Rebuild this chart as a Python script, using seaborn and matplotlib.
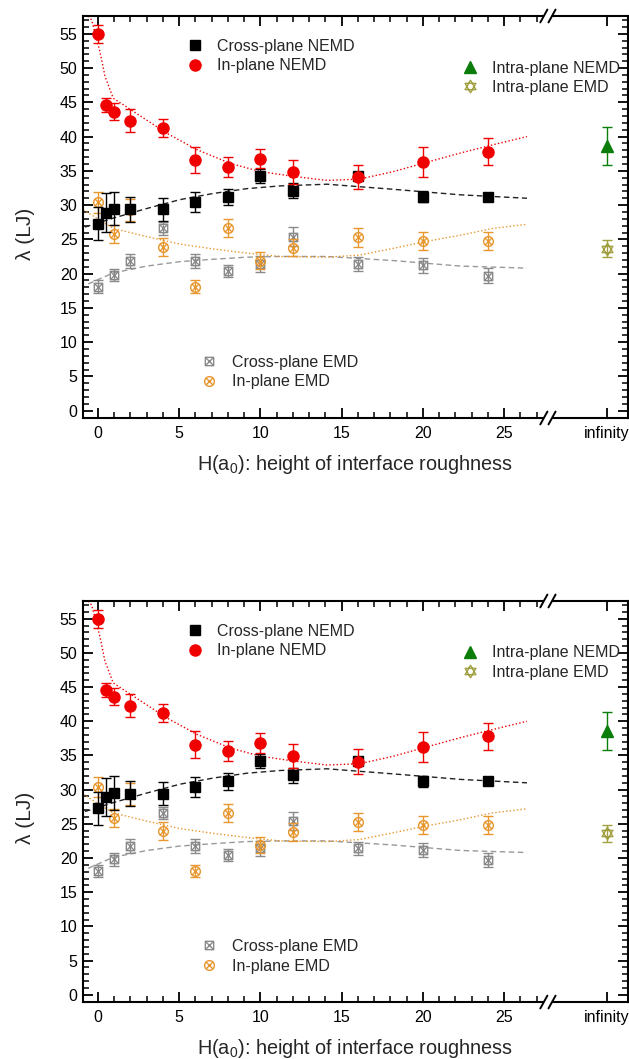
import numpy as np
import pandas as pd
import matplotlib
matplotlib.use("Agg")
import matplotlib.pyplot as plt
from matplotlib.path import Path
from matplotlib.lines import Line2D
import matplotlib.ticker as mticker
import seaborn as sns

# ---------------- data ----------------
H_nemd = [0, 0.5, 1, 2, 4, 6, 8, 10, 12, 16, 20, 24]
cross_nemd = [27.3, 28.9, 29.5, 29.4, 29.4, 30.4, 31.2, 34.2, 32.1, 34.2, 31.2, 31.2]
cross_nemd_err = [2.4, 2.8, 2.45, 1.8, 1.7, 1.45, 1.2, 1.0, 1.1, 0.5, 0.8, 0.4]
in_nemd = [55.0, 44.6, 43.6, 42.3, 41.2, 36.6, 35.6, 36.8, 34.9, 34.1, 36.3, 37.8]
in_nemd_err = [1.3, 1.0, 1.25, 1.7, 1.3, 1.95, 1.45, 1.45, 1.75, 1.8, 2.2, 2.0]

H_emd = [0, 1, 2, 4, 6, 8, 10, 12, 16, 20, 24]
cross_emd = [18.1, 19.8, 21.8, 26.6, 21.8, 20.4, 21.4, 25.4, 21.4, 21.2, 19.7]
cross_emd_err = [0.9, 0.9, 1.0, 0.9, 1.0, 0.9, 1.1, 1.35, 1.0, 1.05, 1.05]
in_emd = [30.4, 25.8, 29.3, 23.9, 18.1, 26.6, 21.9, 23.8, 25.3, 24.8, 24.8]
in_emd_err = [1.5, 1.3, 1.6, 1.3, 0.9, 1.3, 1.2, 1.3, 1.35, 1.3, 1.3]

H_inf = [31.3]
intra_nemd = [38.6]
intra_nemd_err = [2.8]
intra_emd = [23.65]
intra_emd_err = [1.25]

# trend curves
fit_red_x = [-0.6, -0.39, 0.12, 0.43, 0.94, 3.0, 4.23, 6.08, 8.13, 9.98, 12.0, 14.1, 16.1, 18.2, 20.0, 22.3, 24.3, 26.4]
fit_red_y = [57.6, 57.0, 52.4, 48.8, 45.6, 42.4, 40.5, 38.1, 36.1, 34.9, 34.2, 33.6, 33.8, 34.9, 36.1, 37.6, 38.8, 40.0]
fit_blk_x = [-0.8, 0.94, 3.0, 5.05, 7.1, 9.15, 11.2, 14.1, 18.2, 22.3, 26.4]
fit_blk_y = [26.8, 28.1, 29.5, 30.8, 31.7, 32.4, 32.8, 33.05, 32.3, 31.5, 31.0]
fit_gry_x = [-0.6, 0.94, 3.0, 5.05, 7.1, 9.15, 11.2, 14.1, 18.2, 22.3, 26.4]
fit_gry_y = [18.5, 20.1, 21.1, 21.75, 22.1, 22.4, 22.5, 22.5, 21.9, 21.1, 20.8]
fit_org_x = [-0.9, 0.94, 3.0, 5.05, 7.1, 9.15, 11.2, 14.1, 16.1, 18.2, 20.2, 22.3, 24.3, 26.4]
fit_org_y = [29.3, 26.6, 25.4, 24.3, 23.6, 23.0, 22.5, 22.4, 22.7, 23.7, 24.7, 25.6, 26.6, 27.2]

x_major = [0, 5, 10, 15, 20, 25, 31.3]
x_major_labels = ["0", "5", "10", "15", "20", "25", "infinity"]
x_minor = [1, 2, 3, 4, 6, 7, 8, 9, 11, 12, 13, 14, 16, 17, 18, 19, 21, 22, 23, 24, 26, 27]

legend1 = ["Cross-plane NEMD", "In-plane NEMD"]
legend2 = ["Intra-plane NEMD", "Intra-plane EMD"]
legend3 = ["Cross-plane EMD", "In-plane EMD"]

# ---------------- style ----------------
sns.set_theme(style="ticks")
plt.rcParams["font.family"] = ["Liberation Sans", "DejaVu Sans"]
plt.rcParams["mathtext.default"] = "regular"
plt.rcParams["axes.linewidth"] = 1.5

RED = "#f00000"
BLACK = "#000000"
GRAY = "#8a8a8a"
ORANGE = "#e8962e"
GREEN = "#0a7d0a"
OLIVE = "#a0a040"

# custom marker paths
def boxx_path():
    v = [(-1, -1), (1, -1), (1, 1), (-1, 1), (-1, -1),
         (-1, -1), (1, 1), (-1, 1), (1, -1)]
    c = [Path.MOVETO, Path.LINETO, Path.LINETO, Path.LINETO, Path.CLOSEPOLY,
         Path.MOVETO, Path.LINETO, Path.MOVETO, Path.LINETO]
    return Path(v, c)

def circx_path():
    circ = Path.unit_circle()
    d = 0.7071
    cross = Path([(-d, -d), (d, d), (-d, d), (d, -d)],
                 [Path.MOVETO, Path.LINETO, Path.MOVETO, Path.LINETO])
    return Path.make_compound_path(circ, cross)

def hexa_path():
    up = Path([(0, 1), (-0.866, -0.5), (0.866, -0.5), (0, 1)],
              [Path.MOVETO, Path.LINETO, Path.LINETO, Path.CLOSEPOLY])
    dn = Path([(0, -1), (-0.866, 0.5), (0.866, 0.5), (0, -1)],
              [Path.MOVETO, Path.LINETO, Path.LINETO, Path.CLOSEPOLY])
    return Path.make_compound_path(up, dn)

BOXX = boxx_path()
CIRCX = circx_path()
HEXA = hexa_path()

fits = pd.concat([
    pd.DataFrame({"x": fit_red_x, "y": fit_red_y, "s": "red"}),
    pd.DataFrame({"x": fit_blk_x, "y": fit_blk_y, "s": "blk"}),
    pd.DataFrame({"x": fit_gry_x, "y": fit_gry_y, "s": "gry"}),
    pd.DataFrame({"x": fit_org_x, "y": fit_org_y, "s": "org"}),
])

FS = 11.5


def draw(ax):
    # trend curves
    sub = fits[fits.s == "red"]
    sns.lineplot(data=sub, x="x", y="y", ax=ax, color=RED, lw=1.0,
                 linestyle=(0, (1, 1.6)), sort=False, estimator=None, zorder=2)
    sub = fits[fits.s == "blk"]
    sns.lineplot(data=sub, x="x", y="y", ax=ax, color="#222222", lw=1.0,
                 linestyle=(0, (4, 2.5)), sort=False, estimator=None, zorder=2)
    sub = fits[fits.s == "gry"]
    sns.lineplot(data=sub, x="x", y="y", ax=ax, color="#999999", lw=1.0,
                 linestyle=(0, (4, 2.5)), sort=False, estimator=None, zorder=2)
    sub = fits[fits.s == "org"]
    sns.lineplot(data=sub, x="x", y="y", ax=ax, color=ORANGE, lw=1.0,
                 linestyle=(0, (1, 1.6)), sort=False, estimator=None, zorder=2)

    eb = dict(ls="none", elinewidth=1.0, capsize=3.6, capthick=1.0)
    ax.errorbar(H_emd, cross_emd, yerr=cross_emd_err, marker=BOXX, ms=6,
                mfc="none", mec=GRAY, mew=1.0, ecolor=GRAY, zorder=3, **eb)
    ax.errorbar(H_emd, in_emd, yerr=in_emd_err, marker=CIRCX, ms=7,
                mfc="none", mec=ORANGE, mew=1.0, ecolor=ORANGE, zorder=4, **eb)
    ax.errorbar(H_nemd, cross_nemd, yerr=cross_nemd_err, marker="s", ms=7,
                mfc=BLACK, mec=BLACK, ecolor=BLACK, zorder=5, **eb)
    ax.errorbar(H_nemd, in_nemd, yerr=in_nemd_err, marker="o", ms=8,
                mfc=RED, mec=RED, ecolor=RED, zorder=6, **eb)
    ax.errorbar(H_inf, intra_nemd, yerr=intra_nemd_err, marker="^", ms=9,
                mfc=GREEN, mec=GREEN, ecolor=GREEN, zorder=6, **eb)
    ax.errorbar(H_inf, intra_emd, yerr=intra_emd_err, marker=HEXA, ms=9,
                mfc="none", mec=OLIVE, mew=1.0, ecolor=OLIVE, zorder=6, **eb)

    ax.set_xlim(-0.92, 32.6)
    ax.set_ylim(-1.07, 57.6)
    ax.set_xticks(x_major)
    ax.set_xticklabels(x_major_labels)
    ax.xaxis.set_minor_locator(mticker.FixedLocator(x_minor))
    ax.set_yticks(np.arange(0, 56, 5))
    ax.yaxis.set_minor_locator(mticker.MultipleLocator(1))
    ax.tick_params(which="both", direction="in", top=True, right=True,
                   labelsize=FS, colors="black")
    ax.tick_params(which="major", length=7, width=1.3)
    ax.tick_params(which="minor", length=4, width=1.1)
    ax.tick_params(axis="x", which="major", pad=6)
    ax.tick_params(axis="y", which="major", pad=4)
    for s in ax.spines.values():
        s.set_linewidth(1.5)
        s.set_color("black")

    ax.set_xlabel("H(a$_0$): height of interface roughness", fontsize=14.3)
    ax.xaxis.set_label_coords(0.5, -0.088)
    ax.set_ylabel("\u03bb (LJ)", fontsize=15)
    ax.yaxis.set_label_coords(-0.088, 0.458)

    # axis break marks on top and bottom spines
    for yb in (0.0, 1.0):
        ax.plot([0.846, 0.861], [yb, yb], transform=ax.transAxes, color="white",
                lw=3, clip_on=False, zorder=10, solid_capstyle="butt")
        for xb in (0.846, 0.861):
            ax.plot([xb - 0.0065, xb + 0.0065], [yb - 0.016, yb + 0.016],
                    transform=ax.transAxes, color="black", lw=1.4,
                    clip_on=False, zorder=11)

    # legends
    h1 = [Line2D([], [], ls="none", marker="s", ms=7, mfc=BLACK, mec=BLACK),
          Line2D([], [], ls="none", marker="o", ms=8, mfc=RED, mec=RED)]
    h2 = [Line2D([], [], ls="none", marker="^", ms=9, mfc=GREEN, mec=GREEN),
          Line2D([], [], ls="none", marker=HEXA, ms=9, mfc="none", mec=OLIVE, mew=1.0)]
    h3 = [Line2D([], [], ls="none", marker=BOXX, ms=6, mfc="none", mec=GRAY, mew=1.0),
          Line2D([], [], ls="none", marker=CIRCX, ms=7, mfc="none", mec=ORANGE, mew=1.0)]
    common = dict(frameon=False, fontsize=FS, handlelength=0.95, handletextpad=0.95,
                  labelspacing=0.28, borderpad=0, borderaxespad=0, loc="upper left")
    l1 = ax.legend(h1, legend1, bbox_to_anchor=(0.191, 0.9435), **common)
    ax.add_artist(l1)
    l2 = ax.legend(h2, legend2, bbox_to_anchor=(0.696, 0.889), **common)
    ax.add_artist(l2)
    ax.legend(h3, legend3, bbox_to_anchor=(0.217, 0.157), **common)


fig = plt.figure(figsize=(6.29, 10.59), dpi=100)
ax1 = fig.add_axes([0.132, 0.6053, 0.866, 0.3796])
ax2 = fig.add_axes([0.132, 0.0538, 0.866, 0.3787])
draw(ax1)
draw(ax2)
fig.savefig("out.png", dpi=100)
